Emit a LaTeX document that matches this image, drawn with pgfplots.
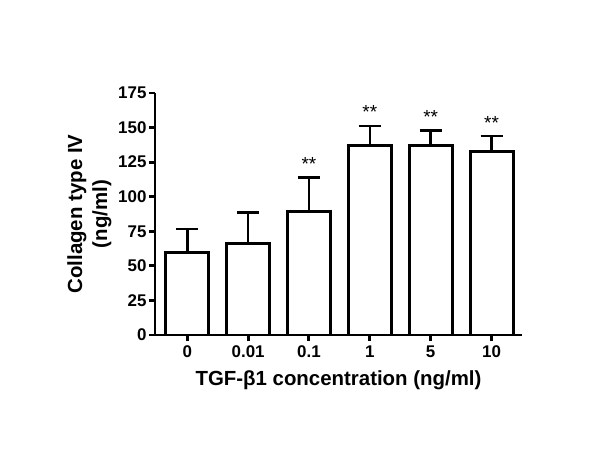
\documentclass[border=0pt]{standalone}
\usepackage{fontspec}
\setmainfont{Liberation Sans}
\usepackage{pgfplots}
\pgfplotsset{compat=1.18}

\pgfplotstableread{
x  y     err
0  60.0  16.6
1  66.5  22.0
2  89.0  25.0
3  137.0 14.0
4  137.0 11.0
5  132.5 11.5
}\collagen

\begin{document}
\begin{tikzpicture}
\useasboundingbox (-155bp,-125bp) rectangle (445bp,335bp);
\begin{axis}[
    anchor=south west, at={(0,0)},
    scale only axis,
    width=367bp, height=242bp,
    xmin=-0.53, xmax=5.5,
    ymin=0, ymax=175,
    axis x line*=bottom, axis y line*=left,
    axis line style={line width=3pt, -},
    xtick=data,
    xticklabels={0,0.01,0.1,1,5,10},
    ytick={0,25,...,175},
    tick style={line width=3pt, black},
    major tick length=6bp,
    tick align=outside,
    /pgf/number format/assume math mode=true,
    ticklabel style={font=\fontsize{17}{19}\selectfont\bfseries},
    yticklabel style={xshift=1bp},
    xticklabel style={yshift=-1bp},
    xlabel={TGF-β1 concentration (ng/ml)},
    ylabel={Collagen type IV\\(ng/ml)},
    label style={font=\fontsize{20.5}{25}\selectfont\bfseries},
    ylabel style={align=center, yshift=0bp},
    xlabel style={yshift=-6bp},
    clip=false,
]
\addplot[ybar, bar width=43bp, fill=white, draw=black, line width=3pt,
    error bars/.cd, y dir=plus, y explicit,
    error bar style={line width=2.6pt, black},
    error mark options={rotate=90, mark size=11bp, line width=2.6pt, black}]
    table[x=x, y=y, y error=err] {\collagen};
\node[font=\fontsize{19}{19}\selectfont] at (axis cs:2,124) {**};
\node[font=\fontsize{19}{19}\selectfont] at (axis cs:3,161) {**};
\node[font=\fontsize{19}{19}\selectfont] at (axis cs:4,158) {**};
\node[font=\fontsize{19}{19}\selectfont] at (axis cs:5,153) {**};
\end{axis}
\end{tikzpicture}
\end{document}
